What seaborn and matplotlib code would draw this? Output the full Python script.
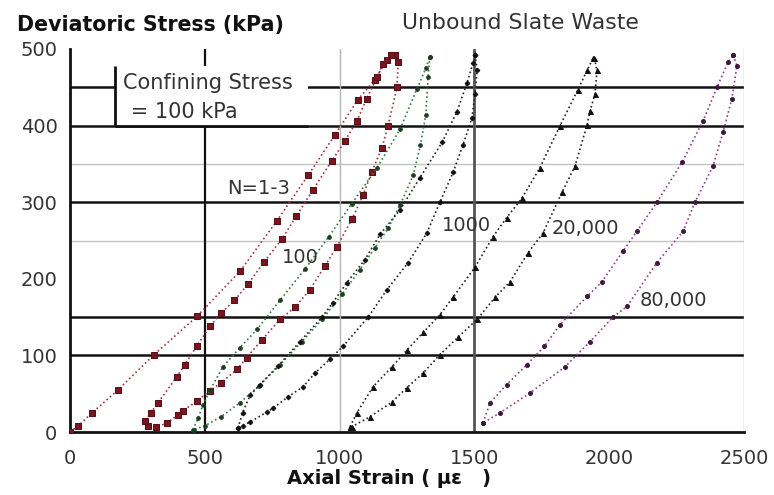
import matplotlib
matplotlib.use("Agg")
import matplotlib.pyplot as plt
from matplotlib.patches import Rectangle
import pandas as pd
import seaborn as sns

# ---- loops: loading / unloading branches (axial strain in microstrain, stress in kPa)
n1_load1_x = [0, 30, 82, 178, 312, 471, 631, 768, 883, 983, 1068, 1131, 1176, 1195]
n1_load1_y = [0, 8, 25, 55, 101, 151, 210, 276, 335, 388, 434, 460, 486, 492]
n1_unload_x = [1205, 1217, 1213, 1180, 1157, 1120, 1087, 1046, 990, 946, 890, 835, 779, 711,
               655, 620, 560, 519, 470, 420, 400, 360, 320, 290]
n1_unload_y = [492, 483, 450, 400, 371, 340, 309, 278, 242, 217, 186, 163, 147, 120,
               97, 82, 64, 54, 40, 28, 22, 12, 6, 8]
n1_load2_x = [280, 300, 326, 396, 426, 470, 519, 560, 610, 660, 720, 786, 840, 901, 971,
              1020, 1064, 1100, 1139, 1160, 1190]
n1_load2_y = [15, 25, 38, 72, 88, 112, 138, 155, 172, 193, 222, 252, 282, 316, 354,
              380, 406, 435, 463, 480, 492]

n100_load_x = [456, 475, 493, 520, 567, 630, 694, 779, 872, 960, 1045, 1139, 1224, 1287, 1320, 1335]
n100_load_y = [3, 18, 35, 55, 85, 110, 134, 172, 213, 255, 298, 345, 395, 448, 475, 490]
n100_unload_x = [1335, 1328, 1320, 1300, 1273, 1224, 1180, 1130, 1075, 1010, 935, 860, 780,
                 700, 630, 560, 500, 460]
n100_unload_y = [490, 463, 414, 375, 335, 296, 266, 240, 212, 180, 147, 118, 88, 60, 38, 20, 8, 3]

n1000_load_x = [623, 640, 668, 705, 771, 853, 935, 975, 1027, 1094, 1150, 1224, 1298, 1380,
                1435, 1472, 1495, 1503]
n1000_load_y = [5, 25, 48, 62, 86, 118, 150, 169, 195, 225, 258, 290, 332, 378, 418, 455, 482, 492]
n1000_unload_x = [1503, 1510, 1502, 1491, 1458, 1421, 1372, 1324, 1254, 1176, 1106, 1013, 964,
                  909, 864, 809, 753, 730, 668, 640, 623]
n1000_unload_y = [492, 472, 441, 410, 375, 339, 300, 260, 221, 186, 150, 112, 95, 77, 59, 46,
                  31, 26, 13, 8, 5]

n20k_load_x = [1039, 1064, 1124, 1194, 1250, 1310, 1372, 1421, 1502, 1569, 1620, 1676, 1743,
               1818, 1884, 1918, 1940]
n20k_load_y = [7, 25, 59, 85, 107, 130, 153, 176, 215, 255, 280, 305, 345, 400, 447, 472, 488]
n20k_unload_x = [1945, 1955, 1947, 1929, 1918, 1873, 1825, 1755, 1699, 1632, 1577, 1510, 1440,
                 1372, 1310, 1250, 1194, 1113, 1046, 1039]
n20k_unload_y = [488, 472, 441, 419, 401, 347, 313, 260, 234, 196, 176, 147, 124, 101, 77,
                 58, 39, 20, 7, 7]

n80k_load_x = [1532, 1558, 1620, 1695, 1760, 1817, 1918, 1973, 2051, 2103, 2177, 2270, 2348,
               2400, 2441, 2460]
n80k_load_y = [12, 38, 62, 88, 112, 140, 177, 196, 236, 262, 300, 352, 406, 450, 483, 492]
n80k_unload_x = [2460, 2474, 2455, 2422, 2385, 2318, 2274, 2177, 2066, 2014, 1929, 1836, 1706,
                 1595, 1532]
n80k_unload_y = [492, 478, 435, 391, 347, 300, 262, 221, 164, 150, 118, 85, 51, 25, 12]

x_ticks = [0, 500, 1000, 1500, 2000, 2500]
y_ticks = [0, 100, 200, 300, 400, 500]
cycle_labels = ["N=1-3", "100", "1000", "20,000", "80,000"]


def branches(group, *pairs):
    frames = []
    for i, (xs, ys) in enumerate(pairs):
        frames.append(pd.DataFrame({"strain": xs, "stress": ys,
                                    "branch": f"{group}-{i}", "group": group}))
    return pd.concat(frames, ignore_index=True)


df = pd.concat([
    branches("N=1-3", (n1_load1_x, n1_load1_y), (n1_unload_x, n1_unload_y),
             (n1_load2_x, n1_load2_y)),
    branches("100", (n100_load_x, n100_load_y), (n100_unload_x, n100_unload_y)),
    branches("1000", (n1000_load_x, n1000_load_y), (n1000_unload_x, n1000_unload_y)),
    branches("20,000", (n20k_load_x, n20k_load_y), (n20k_unload_x, n20k_unload_y)),
    branches("80,000", (n80k_load_x, n80k_load_y), (n80k_unload_x, n80k_unload_y)),
], ignore_index=True)

sns.set_style("white")
plt.rcParams["font.family"] = ["DejaVu Sans"]

fig = plt.figure(figsize=(7.74, 4.95), dpi=100)
ax = fig.add_axes([70 / 774, 63 / 495, 674 / 774, 383 / 495])

# reference lines
for yv in [100, 150, 300, 400, 450]:
    ax.axhline(yv, color="#111111", lw=1.8, zorder=1)
for yv in [250, 350]:
    ax.axhline(yv, color="#c4c4c4", lw=1.0, zorder=1)
ax.axvline(500, color="#111111", lw=1.6, zorder=1)
ax.axvline(1000, color="#b5b5b5", lw=1.0, zorder=1)
ax.axvline(1500, color="#555555", lw=2.0, zorder=1)
ax.axvline(2500, color="#b5b5b5", lw=1.0, zorder=1)

styles = {
    "N=1-3": dict(color="#a8323f", marker="s", markersize=5.0,
                  markerfacecolor="#7a1620", markeredgecolor="#5a0f18"),
    "100": dict(color="#2f7d3a", marker="o", markersize=2.6,
                markerfacecolor="#1e3d22", markeredgecolor="#1e3d22"),
    "1000": dict(color="#222222", marker="D", markersize=2.4,
                 markerfacecolor="#111111", markeredgecolor="#111111"),
    "20,000": dict(color="#222222", marker="^", markersize=3.6,
                   markerfacecolor="#111111", markeredgecolor="#111111"),
    "80,000": dict(color="#8e3f8e", marker="o", markersize=2.8,
                   markerfacecolor="#3d1a3d", markeredgecolor="#3d1a3d"),
}
for grp, st in styles.items():
    sns.lineplot(data=df[df["group"] == grp], x="strain", y="stress", units="branch",
                 estimator=None, sort=False, linestyle=":", lw=1.2, legend=False,
                 ax=ax, zorder=4, **st)

# confining-stress note box
ax.add_patch(Rectangle((167, 400), 716, 78, facecolor="white", edgecolor="none", zorder=3))
ax.plot([167, 167], [400, 478], color="#111111", lw=2.0, zorder=3.5, solid_capstyle="butt")
ax.plot([167, 883], [400, 400], color="#111111", lw=2.0, zorder=3.5, solid_capstyle="butt")
ax.text(197, 456, "Confining Stress", fontsize=15, color="#333333", va="center", ha="left", zorder=5)
ax.text(200, 418, " = 100 kPa", fontsize=15, color="#333333", va="center", ha="left", zorder=5)

# cycle labels
label_pos = [(582, 318), (786, 228), (1380, 269), (1788, 266), (2114, 172)]
for txt, (lx, ly) in zip(cycle_labels, label_pos):
    ax.text(lx, ly, txt, fontsize=14, color="#333333", va="center", ha="left", zorder=5)

ax.set_xlim(0, 2500)
ax.set_ylim(0, 500)
ax.set_xticks(x_ticks)
ax.set_yticks(y_ticks)
ax.set_xticklabels([str(v) for v in x_ticks])
ax.set_yticklabels([str(v) for v in y_ticks])
ax.tick_params(axis="both", length=0, labelsize=14, labelcolor="#333333")
ax.tick_params(axis="x", pad=12)
ax.tick_params(axis="y", pad=9)
ax.set_xlabel("")
ax.set_ylabel("")
for side in ["top", "right"]:
    ax.spines[side].set_visible(False)
for side in ["left", "bottom"]:
    ax.spines[side].set_color("#111111")
    ax.spines[side].set_linewidth(2.0)
ax.patch.set_alpha(0)

fig.text(17 / 774, 1 - 25 / 495, "Deviatoric Stress (kPa)", fontsize=14.8, fontweight="bold",
         color="#111111", ha="left", va="center")
fig.text(402 / 774, 1 - 23 / 495, "Unbound Slate Waste", fontsize=15.8, color="#333333",
         ha="left", va="center")
fig.text(389 / 774, 1 - 478 / 495, "Axial Strain ( \u00b5\u03b5   )", fontsize=14,
         fontweight="bold", color="#111111", ha="center", va="center")

fig.savefig("out.png", dpi=100, facecolor="white")
